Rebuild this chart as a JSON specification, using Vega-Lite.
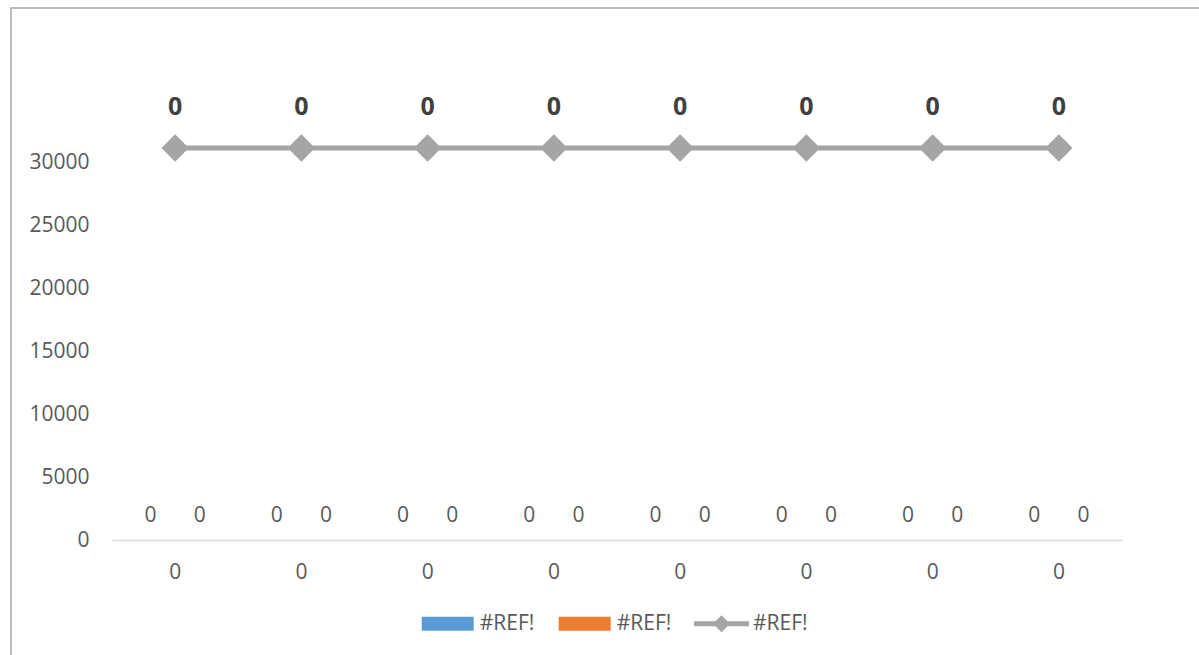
{
  "$schema": "https://vega.github.io/schema/vega-lite/v6.json",
  "width": 1192,
  "height": 651,
  "padding": {"left": 11, "top": 8, "right": -4, "bottom": -4},
  "autosize": {"type": "none"},
  "background": "#ffffff",
  "config": {
    "view": {"stroke": "#a6a6a6", "strokeWidth": 1.5},
    "font": "Open Sans",
    "axis": {"labelFont": "Open Sans", "labelColor": "#595959", "labelFontSize": 21}
  },
  "data": {
    "values": [
      {"cat": 1, "series": "A", "value": 0}, {"cat": 1, "series": "B", "value": 0}, {"cat": 1, "series": "C", "value": 0},
      {"cat": 2, "series": "A", "value": 0}, {"cat": 2, "series": "B", "value": 0}, {"cat": 2, "series": "C", "value": 0},
      {"cat": 3, "series": "A", "value": 0}, {"cat": 3, "series": "B", "value": 0}, {"cat": 3, "series": "C", "value": 0},
      {"cat": 4, "series": "A", "value": 0}, {"cat": 4, "series": "B", "value": 0}, {"cat": 4, "series": "C", "value": 0},
      {"cat": 5, "series": "A", "value": 0}, {"cat": 5, "series": "B", "value": 0}, {"cat": 5, "series": "C", "value": 0},
      {"cat": 6, "series": "A", "value": 0}, {"cat": 6, "series": "B", "value": 0}, {"cat": 6, "series": "C", "value": 0},
      {"cat": 7, "series": "A", "value": 0}, {"cat": 7, "series": "B", "value": 0}, {"cat": 7, "series": "C", "value": 0},
      {"cat": 8, "series": "A", "value": 0}, {"cat": 8, "series": "B", "value": 0}, {"cat": 8, "series": "C", "value": 0}
    ]
  },
  "resolve": {"scale": {"y": "independent"}, "axis": {"y": "independent"}},
  "layer": [
    {
      "transform": [{"filter": "datum.series !== 'C'"}],
      "encoding": {
        "x": {
          "field": "cat", "type": "ordinal",
          "scale": {"range": [101, 1111], "paddingInner": 0, "paddingOuter": 0},
          "axis": {
            "title": null, "labelExpr": "'0'", "labelAngle": 0,
            "offset": -119, "ticks": false, "tickSize": 0,
            "labelPadding": 38, "labelBaseline": "alphabetic",
            "domainColor": "#d9d9d9", "domainWidth": 1.5, "grid": false
          }
        },
        "xOffset": {"field": "series", "type": "nominal", "scale": {"paddingOuter": 0.288, "paddingInner": 0}},
        "y": {
          "field": "value", "type": "quantitative",
          "scale": {"domain": [0, 30000], "range": [532, 154], "nice": false},
          "axis": {
            "title": null, "values": [0, 5000, 10000, 15000, 20000, 25000, 30000],
            "format": "d", "offset": -78, "ticks": false, "tickSize": 0,
            "labelPadding": 0, "domain": false, "grid": false, "labelBaseline": "middle"
          }
        }
      },
      "layer": [
        {
          "mark": {"type": "bar"},
          "encoding": {
            "fill": {
              "field": "series", "type": "nominal",
              "scale": {"domain": ["A", "B"], "range": ["#5b9bd5", "#ed7d31"]},
              "legend": {
                "title": null, "orient": "none", "direction": "horizontal",
                "legendX": 410.7, "legendY": 589.7, "padding": 0,
                "labelExpr": "'#REF!'", "labelFont": "Open Sans", "labelFontSize": 21,
                "labelColor": "#595959", "labelOffset": 6, "columnPadding": 24,
                "symbolType": "M-1,-0.27H1V0.27H-1Z", "symbolSize": 2704,
                "symbolStrokeWidth": 0
              }
            }
          }
        },
        {
          "mark": {"type": "text", "font": "Open Sans", "fontSize": 21, "color": "#595959", "baseline": "alphabetic", "dy": -18},
          "encoding": {"text": {"field": "value", "type": "quantitative", "format": "d"}}
        }
      ]
    },
    {
      "transform": [{"filter": "datum.series === 'C'"}],
      "encoding": {
        "x": {
          "field": "cat", "type": "ordinal",
          "scale": {"range": [101, 1111], "paddingInner": 0, "paddingOuter": 0}
        },
        "y": {
          "field": "value", "type": "quantitative",
          "scale": {"domain": [0, 1], "range": [140, 0], "nice": false, "zero": false},
          "axis": null
        }
      },
      "layer": [
        {
          "mark": {"type": "line", "strokeWidth": 5},
          "encoding": {
            "stroke": {
              "field": "series", "type": "nominal",
              "scale": {"domain": ["C"], "range": ["#a5a5a5"]},
              "legend": {
                "title": null, "orient": "none", "direction": "horizontal",
                "legendX": 683, "legendY": 588.2, "padding": 0,
                "labelExpr": "'#REF!'", "labelFont": "Open Sans", "labelFontSize": 21,
                "labelColor": "#595959", "labelOffset": 4,
                "symbolType": "M-1,-0.09L-0.22,-0.09L0,-0.31L0.22,-0.09L1,-0.09L1,0.09L0.22,0.09L0,0.31L-0.22,0.09L-1,0.09Z",
                "symbolSize": 3025, "symbolFillColor": "#a5a5a5", "symbolStrokeWidth": 0,
                "encode": {"symbols": {"update": {"fill": {"value": "#a5a5a5"}, "strokeWidth": {"value": 0}}}}
              }
            }
          }
        },
        {
          "mark": {"type": "point", "shape": "diamond", "size": 750, "filled": true, "color": "#a5a5a5", "opacity": 1}
        },
        {
          "mark": {"type": "text", "font": "Open Sans", "fontSize": 25, "fontWeight": "bold", "color": "#404040", "baseline": "alphabetic", "dy": -33},
          "encoding": {"text": {"field": "value", "type": "quantitative", "format": "d"}}
        }
      ]
    }
  ]
}
